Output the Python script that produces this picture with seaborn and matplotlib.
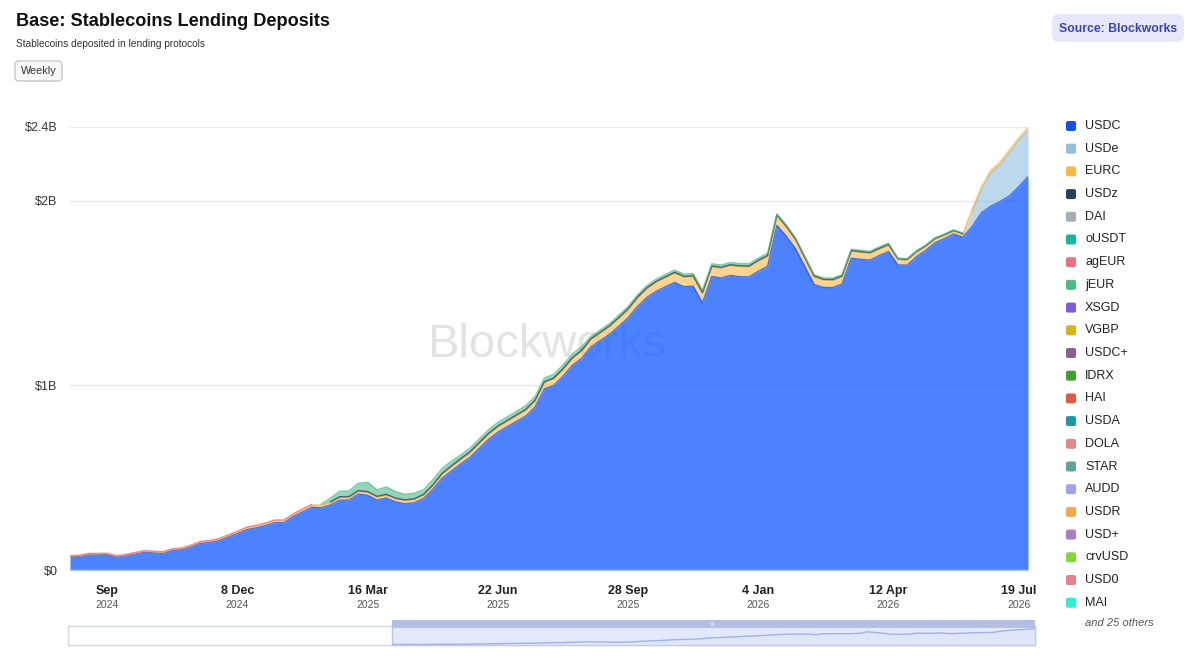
import numpy as np
import pandas as pd
import seaborn as sns
import matplotlib.pyplot as plt
from matplotlib.patches import FancyBboxPatch, Rectangle

# weekly data, values in $B
dates = pd.date_range('2024-08-04', periods=104, freq='7D')

usdc = [0.072, 0.074, 0.083, 0.083, 0.084, 0.071, 0.077, 0.087, 0.097, 0.093,
        0.090, 0.106, 0.110, 0.125, 0.144, 0.149, 0.158, 0.178, 0.197, 0.219,
        0.228, 0.241, 0.256, 0.256, 0.290, 0.314, 0.340, 0.337, 0.352, 0.378,
        0.379, 0.411, 0.405, 0.379, 0.390, 0.369, 0.359, 0.364, 0.387, 0.436,
        0.497, 0.536, 0.574, 0.610, 0.659, 0.708, 0.747, 0.776, 0.805, 0.834,
        0.883, 0.981, 1.000, 1.049, 1.108, 1.146, 1.208, 1.242, 1.276, 1.320,
        1.366, 1.427, 1.476, 1.509, 1.534, 1.558, 1.535, 1.538, 1.447, 1.590,
        1.582, 1.596, 1.589, 1.588, 1.619, 1.645, 1.867, 1.809, 1.741, 1.644,
        1.547, 1.531, 1.530, 1.549, 1.689, 1.683, 1.679, 1.703, 1.725, 1.653,
        1.651, 1.697, 1.731, 1.773, 1.795, 1.820, 1.803, 1.860, 1.936, 1.971,
        1.996, 2.026, 2.076, 2.131]

usde = [0.0] * 97 + [0.080, 0.125, 0.180, 0.200, 0.235, 0.250, 0.250]

eurc = [0.003, 0.003, 0.004, 0.004, 0.004, 0.004, 0.005, 0.005, 0.005, 0.006,
        0.006, 0.006, 0.007, 0.007, 0.008, 0.008, 0.009, 0.009, 0.010, 0.010,
        0.011, 0.011, 0.012, 0.012, 0.012, 0.013, 0.013, 0.014, 0.014, 0.015,
        0.015, 0.015, 0.016, 0.016, 0.016, 0.017, 0.017, 0.018, 0.018, 0.020,
        0.022, 0.024, 0.025, 0.026, 0.027, 0.028, 0.029, 0.030, 0.031, 0.032,
        0.033, 0.035, 0.036, 0.037, 0.038, 0.040, 0.041, 0.042, 0.043, 0.044,
        0.045, 0.047, 0.048, 0.050, 0.050, 0.051, 0.052, 0.052, 0.052, 0.053,
        0.054, 0.054, 0.055, 0.055, 0.055, 0.055, 0.052, 0.050, 0.048, 0.045,
        0.042, 0.040, 0.040, 0.040, 0.038, 0.038, 0.037, 0.036, 0.035, 0.030,
        0.028, 0.025, 0.022, 0.020, 0.018, 0.016, 0.015, 0.016, 0.015, 0.015,
        0.015, 0.015, 0.015, 0.015]

usdz = [0.0] * 28 + [
        0.003, 0.004, 0.004, 0.004, 0.004, 0.004, 0.004, 0.004, 0.004, 0.004,
        0.004, 0.004, 0.004, 0.004, 0.004, 0.004, 0.004, 0.004, 0.004, 0.004,
        0.004, 0.004, 0.004, 0.004, 0.004, 0.004, 0.004, 0.004, 0.004, 0.004,
        0.004, 0.004, 0.004, 0.004, 0.004, 0.004, 0.004, 0.004, 0.004, 0.004,
        0.004, 0.004, 0.004, 0.004, 0.004, 0.004, 0.004, 0.004, 0.004, 0.004,
        0.004, 0.004, 0.004, 0.004, 0.004, 0.004, 0.004, 0.004, 0.004, 0.004,
        0.004, 0.004, 0.004, 0.004, 0.004, 0.004, 0.004, 0.004, 0.004]
usdz = usdz + [0.0] * 7

ageur = [0.003] * 27 + [0.0] * 77

jeur = [0.0] * 27 + [0.005, 0.020, 0.030, 0.030, 0.040, 0.050, 0.035, 0.040,
        0.035, 0.030, 0.030, 0.025, 0.028, 0.027, 0.026,
        0.020, 0.020, 0.020, 0.020, 0.020, 0.020, 0.020, 0.020, 0.020, 0.020,
        0.020, 0.020, 0.020, 0.020,
        0.012, 0.012, 0.012, 0.012, 0.012, 0.012, 0.012, 0.012, 0.012, 0.012,
        0.012, 0.012, 0.012, 0.012, 0.012, 0.012, 0.012, 0.012, 0.012, 0.012,
        0.007, 0.007, 0.007, 0.007, 0.007, 0.007, 0.007, 0.007, 0.007, 0.007,
        0.007, 0.007, 0.007,
        0.003, 0.003, 0.003, 0.003, 0.003, 0.003, 0.003, 0.003,
        0.0, 0.0, 0.0, 0.0, 0.0, 0.0, 0.0]

legend_names = ['USDC', 'USDe', 'EURC', 'USDz', 'DAI', 'oUSDT', 'agEUR', 'jEUR',
                'XSGD', 'VGBP', 'USDC+', 'IDRX', 'HAI', 'USDA', 'DOLA', 'STAR',
                'AUDD', 'USDR', 'USD+', 'crvUSD', 'USD0', 'MAI']
legend_colors = ['#1351ee', '#91bfe0', '#fbb846', '#27405f', '#a3adbb', '#16b89a',
                 '#e9737f', '#4cb98a', '#7a5ddc', '#d8b31a', '#8b5f8e', '#3f9f2f',
                 '#e05a45', '#1797a8', '#e08a88', '#5fa393', '#9fa3f0', '#f2a950',
                 '#a882c0', '#7fd83a', '#ec7f8c', '#2ef0d0']

stack_names = ['USDC', 'USDe', 'EURC', 'USDz', 'agEUR', 'jEUR']
stack_data = [usdc, usde, eurc, usdz, ageur, jeur]

tick_dates = pd.to_datetime(['2024-09-01', '2024-12-08', '2025-03-16', '2025-06-22',
                             '2025-09-28', '2026-01-04', '2026-04-12', '2026-07-19'])
tick_main = ['Sep', '8 Dec', '16 Mar', '22 Jun', '28 Sep', '4 Jan', '12 Apr', '19 Jul']
tick_year = ['2024', '2024', '2025', '2025', '2025', '2026', '2026', '2026']

sns.set_theme(style='white')
plt.rcParams['font.family'] = ['Liberation Sans', 'DejaVu Sans']

W, H = 1199, 660
fig = plt.figure(figsize=(W / 100, H / 100), dpi=100)
fig.patch.set_facecolor('white')


def box(x0, y0, x1, y1):
    return [x0 / W, 1 - y1 / H, (x1 - x0) / W, (y1 - y0) / H]


# main chart
ax = fig.add_axes(box(70, 127, 1028, 570))
ax.set_facecolor('none')
col = dict(zip(legend_names, legend_colors))
fill_col = {'USDC': '#1f63ff'}
layers = np.array(stack_data)
tops = layers.cumsum(axis=0)
bottoms = tops - layers
for k, n in enumerate(stack_names):
    a = 0.8 if n == 'USDC' else 0.6
    ax.fill_between(dates, bottoms[k], tops[k], color=fill_col.get(n, col[n]),
                    alpha=a, lw=0, zorder=2)
for k, n in enumerate(stack_names):
    edge = np.where(layers[k] > 0, tops[k], np.nan)
    ax.plot(dates, edge, color=col[n], lw=1.0, alpha=0.75, zorder=3)

ax.set_xlim(dates[0], dates[-1])
ax.set_ylim(0, 2.4)
ax.set_yticks([0, 1, 2, 2.4])
ax.set_yticklabels(['$0', '$1B', '$2B', '$2.4B'], fontsize=9, color='#333333')
ax.grid(axis='y', color='#e8e8e8', lw=1, zorder=0)
ax.grid(axis='x', visible=False)
ax.axhline(0, color='#9a9a9a', lw=1.4, zorder=4)
ax.tick_params(axis='y', length=0, pad=9)
ax.set_xticks(tick_dates)
ax.set_xticklabels([])
ax.tick_params(axis='x', length=0)
for s in ax.spines.values():
    s.set_visible(False)
tr = ax.get_xaxis_transform()
for d, m, yv in zip(tick_dates, tick_main, tick_year):
    ax.text(d, -0.047, m, transform=tr, ha='center', va='center', fontsize=9,
            fontweight='bold', color='#222222')
    ax.text(d, -0.078, yv, transform=tr, ha='center', va='center', fontsize=7.5,
            color='#555555')
ax.text(0.497, 0.508, 'Blockworks', transform=ax.transAxes, ha='center', va='center',
        fontsize=34, color='#e3e3e3', zorder=1)

# navigator
nav = fig.add_axes(box(392, 628, 1035, 645))
nav.set_facecolor('none')
total = tops[-1]
sns.lineplot(x=dates, y=total, ax=nav, color='#9fb3e6', lw=1)
nav.fill_between(dates, 0, total, color='#dbe4f8', alpha=0.6, lw=0)
nav.set_xlim(dates[0], dates[-1])
nav.set_ylim(0, 2.5)
nav.axis('off')

# overlay for header, legend and navigator frame
ov = fig.add_axes([0, 0, 1, 1], zorder=-1)
ov.set_xlim(0, W)
ov.set_ylim(H, 0)
ov.axis('off')
ov.add_patch(Rectangle((68, 626), 967, 19, facecolor='white', edgecolor='#d4d8e4', lw=1))
ov.add_patch(Rectangle((392, 626), 643, 19, facecolor='#e3e9f8', edgecolor='#b8c4e6', lw=1))
ov.add_patch(Rectangle((392, 620), 643, 8, facecolor='#b3bfe3', edgecolor='none'))
ov.text(713, 624, 'III', ha='center', va='center', fontsize=3.5, color='white')

top = fig.add_axes([0, 0, 1, 1], zorder=5)
top.set_facecolor('none')
top.set_xlim(0, W)
top.set_ylim(H, 0)
top.axis('off')
top.text(16, 22, 'Base: Stablecoins Lending Deposits', fontsize=13.1, fontweight='bold',
         color='#111111', va='center', ha='left')
top.text(16, 44, 'Stablecoins deposited in lending protocols', fontsize=7.3,
         color='#333333', va='center', ha='left')
top.add_patch(FancyBboxPatch((15, 61), 47, 20, boxstyle='round,pad=0,rounding_size=4',
                             facecolor='#f8f8f8', edgecolor='#c8c8c8', lw=1))
top.text(38.5, 71, 'Weekly', fontsize=7.8, color='#333333', ha='center', va='center')
top.add_patch(FancyBboxPatch((1052, 14), 132, 28, boxstyle='round,pad=0,rounding_size=7',
                             facecolor='#e6e8fb', edgecolor='none'))
top.text(1118, 28.5, 'Source: Blockworks', fontsize=8.8, fontweight='bold',
         color='#3d43b3', ha='center', va='center')

for i, (n, c) in enumerate(zip(legend_names, legend_colors)):
    y = 126 + i * 22.7
    top.add_patch(FancyBboxPatch((1066, y - 5), 10, 10,
                                 boxstyle='round,pad=0,rounding_size=2',
                                 facecolor=c, edgecolor='none'))
    top.text(1085, y, n, fontsize=9, color='#222222', va='center', ha='left')
top.text(1085, 623, 'and 25 others', fontsize=8, style='italic', color='#555555',
         va='center', ha='left')

fig.savefig('out.png', dpi=100)
